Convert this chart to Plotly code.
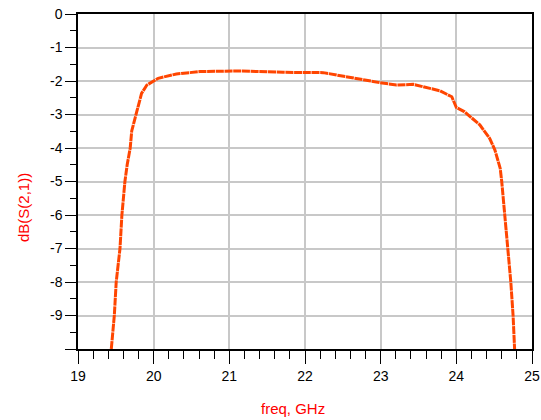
import plotly.graph_objects as go

freq_ghz = [19.44, 19.46, 19.48, 19.505, 19.53, 19.555, 19.58, 19.62, 19.65, 19.69, 19.71,
            19.775, 19.84, 19.91, 20.06, 20.30, 20.61, 21.14, 21.71, 22.24, 22.64,
            22.99, 23.21, 23.43, 23.78, 23.94, 24.0, 24.11, 24.31, 24.44, 24.51,
            24.58, 24.60, 24.64, 24.68, 24.72, 24.75, 24.77]
db_s21 = [-10.0, -9.5, -9.0, -8.0, -7.5, -7.0, -6.0, -5.0, -4.5, -4.0, -3.49,
          -2.96, -2.37, -2.12, -1.92, -1.79, -1.72, -1.70, -1.74, -1.75, -1.92,
          -2.05, -2.12, -2.10, -2.29, -2.47, -2.79, -2.92, -3.31, -3.71, -4.06,
          -4.61, -5.0, -6.0, -7.0, -8.0, -9.0, -10.0]

x_ticks = [19, 20, 21, 22, 23, 24, 25]
y_ticks = [0, -1, -2, -3, -4, -5, -6, -7, -8, -9, -10]
y_tick_text = ["0", "-1", "-2", "-3", "-4", "-5", "-6", "-7", "-8", "-9", ""]

fig = go.Figure()
fig.add_trace(go.Scatter(
    x=freq_ghz, y=db_s21, mode="lines",
    line=dict(color="#ff4500", width=3, dash="8px,0.7px"),
    showlegend=False, hoverinfo="skip",
))

font = dict(family="Liberation Sans, Arial, sans-serif", size=14, color="black")

fig.update_layout(
    width=541, height=420,
    margin=dict(l=78, r=9, t=14, b=71),
    paper_bgcolor="white", plot_bgcolor="white",
    font=font,
    xaxis=dict(
        range=[19, 25], tickvals=x_ticks, ticks="outside", ticklen=13, tickwidth=1,
        tickcolor="black", showline=True, linecolor="black", linewidth=1.5, mirror=True,
        showgrid=True, gridcolor="#c8c8c8", gridwidth=1.5, zeroline=False, automargin=False,
        minor=dict(dtick=0.2, ticks="outside", ticklen=8, tickcolor="black", showgrid=False),
        tickfont=dict(size=14),
    ),
    yaxis=dict(
        range=[-10, 0], tickvals=y_ticks, ticktext=y_tick_text, ticks="outside", ticklen=11,
        tickwidth=1, tickcolor="black", showline=True, linecolor="black", linewidth=1.5,
        mirror=True, showgrid=True, gridcolor="#c8c8c8", gridwidth=1.5, zeroline=False,
        automargin=False,
        minor=dict(dtick=0.5, ticks="outside", ticklen=6, tickcolor="black", showgrid=False),
        tickfont=dict(size=14),
    ),
    annotations=[
        dict(text="freq, GHz", xref="paper", yref="paper", x=(293 - 78) / 454, y=-(408 - 349) / 335,
             xanchor="center", yanchor="middle", showarrow=False,
             font=dict(color="#ff0000", size=15)),
        dict(text="dB(S(2,1))", xref="paper", yref="paper", x=-(78 - 23) / 454, y=(349 - 208) / 335,
             xanchor="center", yanchor="middle", showarrow=False, textangle=-90,
             font=dict(color="#ff0000", size=15)),
    ],
)

fig.write_html("out.html", config={"displayModeBar": False},
               post_script="document.body.style.margin='0';document.body.style.overflow='hidden';")
